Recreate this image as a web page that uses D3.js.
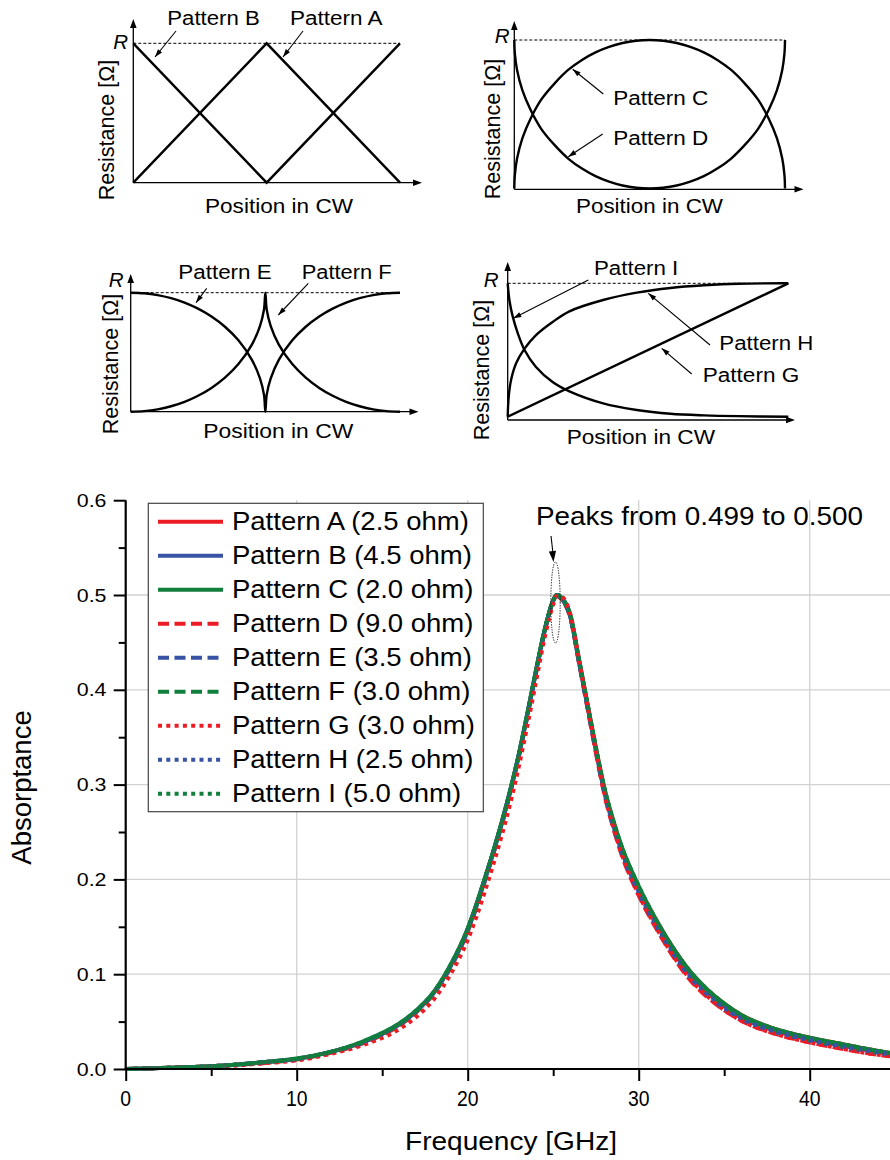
<!DOCTYPE html>
<html><head><meta charset="utf-8">
<script src="https://cdn.jsdelivr.net/npm/d3@7"></script>
<style>
body{margin:0;background:#fff}
svg{display:block}
text{font-family:Arial,"Liberation Sans",sans-serif;fill:#000}
</style>
</head><body>
<svg id="c" width="890" height="1160"></svg>
<script>
// ---------------- DATA ----------------
// Schematic resistance profiles (position 0..1 along CW, resistance as fraction of R)
const posAB = [0, 0.5, 1];
const resA = [0, 1, 0];
const resB = [1, 0, 1];

const posCD = [0,0.002,0.01,0.03,0.06,0.1,0.15,0.2,0.25,0.3,0.35,0.4,0.45,0.5,0.55,0.6,0.65,0.7,0.75,0.8,0.85,0.9,0.94,0.97,0.99,0.998,1];
const resC  = [0,0.09,0.2,0.34,0.47,0.6,0.71,0.8,0.866,0.917,0.954,0.98,0.995,1,0.995,0.98,0.954,0.917,0.866,0.8,0.71,0.6,0.47,0.34,0.2,0.09,0];
const resD  = [1,0.91,0.8,0.66,0.53,0.4,0.29,0.2,0.134,0.083,0.046,0.02,0.005,0,0.005,0.02,0.046,0.083,0.134,0.2,0.29,0.4,0.53,0.66,0.8,0.91,1];

const posEF = [0,0.05,0.1,0.15,0.2,0.25,0.3,0.35,0.4,0.45,0.48,0.495,0.5,0.505,0.52,0.55,0.6,0.65,0.7,0.75,0.8,0.85,0.9,0.95,1];
const resE  = [1,0.995,0.98,0.954,0.917,0.866,0.8,0.714,0.6,0.436,0.28,0.141,0,0.141,0.28,0.436,0.6,0.714,0.8,0.866,0.917,0.954,0.98,0.995,1];
const resF  = [0,0.005,0.02,0.046,0.083,0.134,0.2,0.286,0.4,0.564,0.72,0.859,1,0.859,0.72,0.564,0.4,0.286,0.2,0.134,0.083,0.046,0.02,0.005,0];

const posG = [0, 1];
const resG = [0, 1];
const posH = [0,0.0036,0.012,0.03,0.06,0.10,0.16,0.22,0.34,0.46,0.58,0.70,0.82,1];
const resH = [0,0.15,0.275,0.40,0.51,0.61,0.71,0.79,0.875,0.93,0.965,0.985,0.997,1];
const posI = [0,0.006,0.018,0.036,0.06,0.10,0.16,0.22,0.34,0.46,0.58,0.70,0.82,1];
const resI = [1,0.875,0.75,0.625,0.5,0.375,0.26,0.19,0.10,0.05,0.022,0.01,0.004,0];

// Absorptance spectra
const freq = [0,2,4,6,8,10,12,14,16,17,18,19,20,20.5,21,21.5,22,22.5,23,23.5,24,24.5,25,25.2,25.5,26,26.5,27,27.5,28,28.5,29,30,31,32,33,34,35,36,38,40,42,44,45];
const absA = [0,.001,.002,.004,.007,.0105,.018,.029,.047,.061,.080,.109,.147,.172,.200,.229,.260,.294,.332,.375,.420,.463,.494,.500,.496,.478,.432,.385,.338,.295,.262,.234,.192,.158,.128,.103,.084,.069,.057,.042,.033,.026,.019,.016];
const absB = [0,.001,.002,.004,.007,.0105,.018,.029,.047,.061,.080,.109,.148,.173,.201,.230,.261,.295,.333,.376,.421,.463,.494,.500,.496,.477,.430,.383,.336,.292,.259,.231,.189,.155,.125,.100,.081,.066,.054,.040,.031,.024,.018,.015];
const absC = [0,.001,.002,.004,.007,.011,.018,.030,.048,.062,.081,.110,.148,.173,.201,.230,.261,.295,.333,.376,.421,.463,.494,.500,.497,.479,.433,.386,.339,.296,.263,.235,.193,.158,.128,.103,.084,.069,.057,.042,.033,.026,.019,.016];
const absD = [0,.001,.002,.004,.006,.010,.017,.028,.046,.060,.079,.107,.145,.170,.198,.227,.258,.292,.330,.373,.418,.461,.493,.499,.495,.476,.429,.381,.333,.289,.255,.226,.183,.149,.119,.094,.076,.062,.051,.037,.028,.021,.015,.013];
const absE = [0,.001,.002,.004,.007,.0105,.018,.029,.047,.061,.080,.108,.146,.171,.199,.228,.259,.293,.331,.374,.419,.462,.494,.500,.496,.477,.430,.382,.335,.291,.257,.229,.186,.152,.122,.097,.079,.064,.053,.039,.030,.023,.017,.014];
const absF = [0,.001,.002,.004,.007,.0105,.018,.029,.047,.061,.080,.109,.147,.172,.200,.229,.260,.294,.332,.375,.420,.463,.494,.500,.496,.477,.431,.384,.337,.294,.260,.232,.190,.156,.126,.101,.082,.067,.055,.041,.031,.024,.018,.015];
const absG = [0,.001,.002,.003,.006,.009,.016,.026,.042,.055,.073,.100,.136,.160,.187,.216,.247,.281,.320,.363,.409,.455,.490,.499,.498,.480,.433,.384,.335,.290,.256,.227,.184,.150,.120,.095,.077,.062,.051,.037,.028,.021,.015,.013];
const absH = [0,.001,.002,.004,.007,.0105,.018,.029,.047,.061,.080,.108,.146,.171,.199,.228,.259,.293,.331,.374,.419,.462,.494,.500,.496,.477,.430,.383,.336,.292,.258,.230,.187,.153,.124,.098,.080,.065,.054,.040,.031,.024,.018,.015];
const absI = [0,.001,.002,.004,.007,.011,.018,.030,.048,.062,.081,.110,.148,.173,.201,.230,.261,.295,.333,.376,.421,.463,.494,.500,.497,.479,.433,.386,.339,.296,.263,.235,.193,.158,.128,.103,.084,.069,.057,.042,.033,.026,.019,.016];

const seriesNames = ["Pattern A (2.5 ohm)","Pattern B (4.5 ohm)","Pattern C (2.0 ohm)","Pattern D (9.0 ohm)","Pattern E (3.5 ohm)","Pattern F (3.0 ohm)","Pattern G (3.0 ohm)","Pattern H (2.5 ohm)","Pattern I (5.0 ohm)"];
const seriesValues = [absA,absB,absC,absD,absE,absF,absG,absH,absI];
const xTicks = [0,10,20,30,40];
const yTicks = [0.0,0.1,0.2,0.3,0.4,0.5,0.6];
const peakNote = "Peaks from 0.499 to 0.500";

// ---------------- STYLE ----------------
const RED = "#ec1c24", BLUE = "#3953a4", GREEN = "#0f7f3b";
const seriesColor = [RED,BLUE,GREEN,RED,BLUE,GREEN,RED,BLUE,GREEN];
const seriesDash = ["none","none","none","11,5.5","11,5.5","11,5.5","4,4.3","4,4.3","4,4.3"];

const svg = d3.select("#c");

function txt(g, x, y, s, o = {}) {
  const t = g.append("text")
    .attr("transform", `translate(${x},${y})` + (o.rot ? ` rotate(${o.rot})` : "") + ` scale(${o.sx || 1},1)`)
    .attr("font-size", o.size || 20)
    .attr("text-anchor", o.anchor || "start")
    .text(s);
  if (o.italic) t.attr("font-style", "italic");
  if (o.len) t.attr("textLength", o.len).attr("lengthAdjust", "spacingAndGlyphs");
  return t;
}
function head(g, x1, y1, x2, y2, len, hw) {
  const a = Math.atan2(y2 - y1, x2 - x1);
  const bx = x2 - len * Math.cos(a), by = y2 - len * Math.sin(a);
  const px = -Math.sin(a) * hw, py = Math.cos(a) * hw;
  g.append("path").attr("d", `M${x2},${y2}L${bx + px},${by + py}L${bx - px},${by - py}Z`).attr("fill", "#000");
}
function arrow(g, x1, y1, x2, y2) {
  g.append("line").attr("x1", x1).attr("y1", y1).attr("x2", x2).attr("y2", y2)
    .attr("stroke", "#000").attr("stroke-width", 1.1);
  head(g, x1, y1, x2, y2, 8, 2.6);
}

// ---------------- SCHEMATIC PANELS ----------------
function panel(cfg) {
  const g = svg.append("g");
  const x = d3.scaleLinear([0, 1], [cfg.x0, cfg.x1]);
  const y = d3.scaleLinear([0, 1], [cfg.yBase, cfg.yR]);
  g.append("line").attr("x1", cfg.x0).attr("y1", cfg.yAxis).attr("x2", cfg.x0).attr("y2", cfg.yTop + 6)
    .attr("stroke", "#000").attr("stroke-width", 1.3);
  head(g, cfg.x0, cfg.yAxis, cfg.x0, cfg.yTop, 9, 3.3);
  g.append("line").attr("x1", cfg.x0).attr("y1", cfg.yAxis).attr("x2", cfg.xTip - 6).attr("y2", cfg.yAxis)
    .attr("stroke", "#000").attr("stroke-width", 1.3);
  head(g, cfg.x0, cfg.yAxis, cfg.xTip, cfg.yAxis, 9, 3.3);
  g.append("line").attr("x1", cfg.x0).attr("x2", x(1)).attr("y1", y(1)).attr("y2", y(1))
    .attr("stroke", "#000").attr("stroke-width", 1).attr("stroke-dasharray", "3,2");
  cfg.curves.forEach(c => {
    const pts = c.pos.map((p, i) => [p, c.res[i]]);
    const line = d3.line().x(d => x(d[0])).y(d => y(d[1]))
      .curve(c.smooth ? d3.curveCatmullRom.alpha(0.5) : d3.curveLinear);
    g.append("path").attr("d", line(pts)).attr("fill", "none").attr("stroke", "#000")
      .attr("stroke-width", 2.4).attr("stroke-linejoin", "miter");
  });
  txt(g, cfg.rx, cfg.ry, "R", { size: 20.5, italic: true, anchor: "end" });
  txt(g, cfg.xl, cfg.yl, "Position in CW", { size: 21, len: cfg.xlLen });
  txt(g, cfg.yaX, cfg.yaY, "Resistance [\u03A9]", { size: 21.5, rot: -90, anchor: "middle" });
  cfg.labels.forEach(l => {
    txt(g, l.x, l.y, l.t, { size: 20, len: l.len });
    if (l.a) arrow(g, l.a[0], l.a[1], l.a[2], l.a[3]);
  });
}

panel({
  x0: 133.3, x1: 400, yBase: 182.7, yR: 43.3, yAxis: 182.7, yTop: 19, xTip: 422,
  rx: 128, ry: 49, xl: 205, yl: 213, xlLen: 148, yaX: 113.5, yaY: 130,
  curves: [{ pos: posAB, res: resA }, { pos: posAB, res: resB }],
  labels: [
    { x: 167.3, y: 25, t: "Pattern B", len: 92.5, a: [176, 31, 155, 57] },
    { x: 290, y: 25, t: "Pattern A", len: 92.5, a: [303, 31, 283, 57] }
  ]
});
panel({
  x0: 514.3, x1: 785, yBase: 188.5, yR: 40, yAxis: 189.3, yTop: 21, xTip: 803.5,
  rx: 509.5, ry: 43, xl: 576, yl: 213, xlLen: 147, yaX: 499.5, yaY: 129,
  curves: [{ pos: posCD, res: resC, smooth: true }, { pos: posCD, res: resD, smooth: true }],
  labels: [
    { x: 613.3, y: 105, t: "Pattern C", len: 95, a: [603.3, 94, 572.7, 69.3] },
    { x: 613.3, y: 145, t: "Pattern D", len: 95, a: [602.7, 134, 568.3, 156.7] }
  ]
});
panel({
  x0: 130.7, x1: 400, yBase: 411.7, yR: 292.7, yAxis: 411.7, yTop: 274, xTip: 418.5,
  rx: 123.5, ry: 287, xl: 203.3, yl: 438, xlLen: 150, yaX: 117.5, yaY: 364,
  curves: [{ pos: posEF, res: resE, smooth: true }, { pos: posEF, res: resF, smooth: true }],
  labels: [
    { x: 178.3, y: 279.3, t: "Pattern E", len: 93.4, a: [206.7, 288.3, 196, 302.7] },
    { x: 301.7, y: 279.3, t: "Pattern F", len: 90, a: [308.3, 283.3, 278.3, 315] }
  ]
});
panel({
  x0: 507.7, x1: 788.3, yBase: 416.7, yR: 283.3, yAxis: 420, yTop: 262, xTip: 795,
  rx: 498.5, ry: 287, xl: 566.7, yl: 444, xlLen: 148.3, yaX: 488.5, yaY: 370,
  curves: [{ pos: posG, res: resG }, { pos: posH, res: resH, smooth: true }, { pos: posI, res: resI, smooth: true }],
  labels: [
    { x: 594, y: 275, t: "Pattern I", len: 84.3, a: [588.3, 280, 513.3, 318.3] },
    { x: 719.3, y: 350, t: "Pattern H", len: 94, a: [710, 345, 648.3, 293.3] },
    { x: 702.7, y: 381.7, t: "Pattern G", len: 96.6, a: [691.7, 374, 661.7, 348.3] }
  ]
});

// ---------------- MAIN CHART ----------------
const X0 = 125.7, Y0 = 1069, Ytop = 500.2;
const xs = d3.scaleLinear([0, 45], [X0, X0 + 45 * 17.1]);
const ys = d3.scaleLinear([0, 0.6], [Y0, Ytop]);
const main = svg.append("g");

svg.append("defs").append("clipPath").attr("id", "plotclip")
  .append("rect").attr("x", X0).attr("y", Ytop - 10).attr("width", 890 - X0).attr("height", Y0 - Ytop + 12);

main.append("g").selectAll("line").data([10, 20, 30, 40]).join("line")
  .attr("x1", d => xs(d)).attr("x2", d => xs(d)).attr("y1", Y0).attr("y2", Ytop)
  .attr("stroke", "#d2d2d2").attr("stroke-width", 1.3);
main.append("g").selectAll("line").data([0.1, 0.2, 0.3, 0.4, 0.5]).join("line")
  .attr("x1", X0).attr("x2", 890).attr("y1", d => ys(d)).attr("y2", d => ys(d))
  .attr("stroke", "#d2d2d2").attr("stroke-width", 1.3);

const lineGen = d3.line().x(d => xs(d[0])).y(d => ys(d[1])).curve(d3.curveMonotoneX);
const plot = main.append("g").attr("clip-path", "url(#plotclip)");
seriesValues.forEach((vals, i) => {
  plot.append("path").attr("d", lineGen(freq.map((f, j) => [f, vals[j]])))
    .attr("fill", "none").attr("stroke", seriesColor[i]).attr("stroke-width", 4)
    .attr("stroke-dasharray", seriesDash[i]);
});

function styleAxis(a) {
  a.select(".domain").remove();
  a.selectAll(".tick line").attr("stroke", "#000").attr("stroke-width", 2);
}
main.append("g").attr("transform", `translate(${X0},0)`)
  .call(d3.axisLeft(ys).tickValues(yTicks).tickSize(12).tickFormat("")).call(styleAxis);
main.append("g").attr("transform", `translate(0,${Y0})`)
  .call(d3.axisBottom(xs).tickValues(xTicks).tickSize(12).tickFormat("")).call(styleAxis);
main.append("g").attr("transform", `translate(${X0},0)`)
  .call(d3.axisLeft(ys).tickValues([0.05, 0.15, 0.25, 0.35, 0.45, 0.55]).tickSize(7).tickFormat("")).call(styleAxis);
main.append("g").attr("transform", `translate(0,${Y0})`)
  .call(d3.axisBottom(xs).tickValues([5, 15, 25, 35, 45]).tickSize(7).tickFormat("")).call(styleAxis);
main.append("line").attr("x1", X0).attr("x2", X0).attr("y1", Y0 + 1).attr("y2", Ytop).attr("stroke", "#000").attr("stroke-width", 2.2);
main.append("line").attr("x1", X0 - 1).attr("x2", 890).attr("y1", Y0).attr("y2", Y0).attr("stroke", "#000").attr("stroke-width", 2.2);

yTicks.forEach(v => txt(main, 106.5, ys(v) + 6.6, v.toFixed(1), { size: 18.3, sx: 1.17, anchor: "end" }));
xTicks.forEach(v => txt(main, xs(v), 1106, String(v), { size: 22, sx: 0.88, anchor: "middle" }));

txt(main, 405, 1150, "Frequency [GHz]", { size: 26.5, len: 212 });
txt(main, 31, 787.5, "Absorptance", { size: 27.5, rot: -90, anchor: "middle" });

const leg = main.append("g");
leg.append("rect").attr("x", 148.3).attr("y", 503.3).attr("width", 335).attr("height", 308.4)
  .attr("fill", "#fff").attr("stroke", "#444").attr("stroke-width", 1.2);
seriesNames.forEach((n, i) => {
  const yy = 521.7 + i * 34;
  leg.append("line").attr("x1", 158).attr("x2", 223).attr("y1", yy).attr("y2", yy)
    .attr("stroke", seriesColor[i]).attr("stroke-width", 4).attr("stroke-dasharray", seriesDash[i]);
  txt(leg, 232, yy + 8.5, n, { size: 25, sx: 1.1 });
});

txt(main, 536, 525, peakNote, { size: 25.6, len: 327 });
main.append("line").attr("x1", 551).attr("y1", 536).attr("x2", 553.3).attr("y2", 556)
  .attr("stroke", "#000").attr("stroke-width", 1.1);
head(main, 551, 536, 553.5, 562, 11, 3.6);
main.append("ellipse").attr("cx", 555.5).attr("cy", 602.5).attr("rx", 4.7).attr("ry", 40.5)
  .attr("fill", "none").attr("stroke", "#000").attr("stroke-width", 0.9).attr("stroke-dasharray", "1.3,1.3");
</script>
</body></html>
